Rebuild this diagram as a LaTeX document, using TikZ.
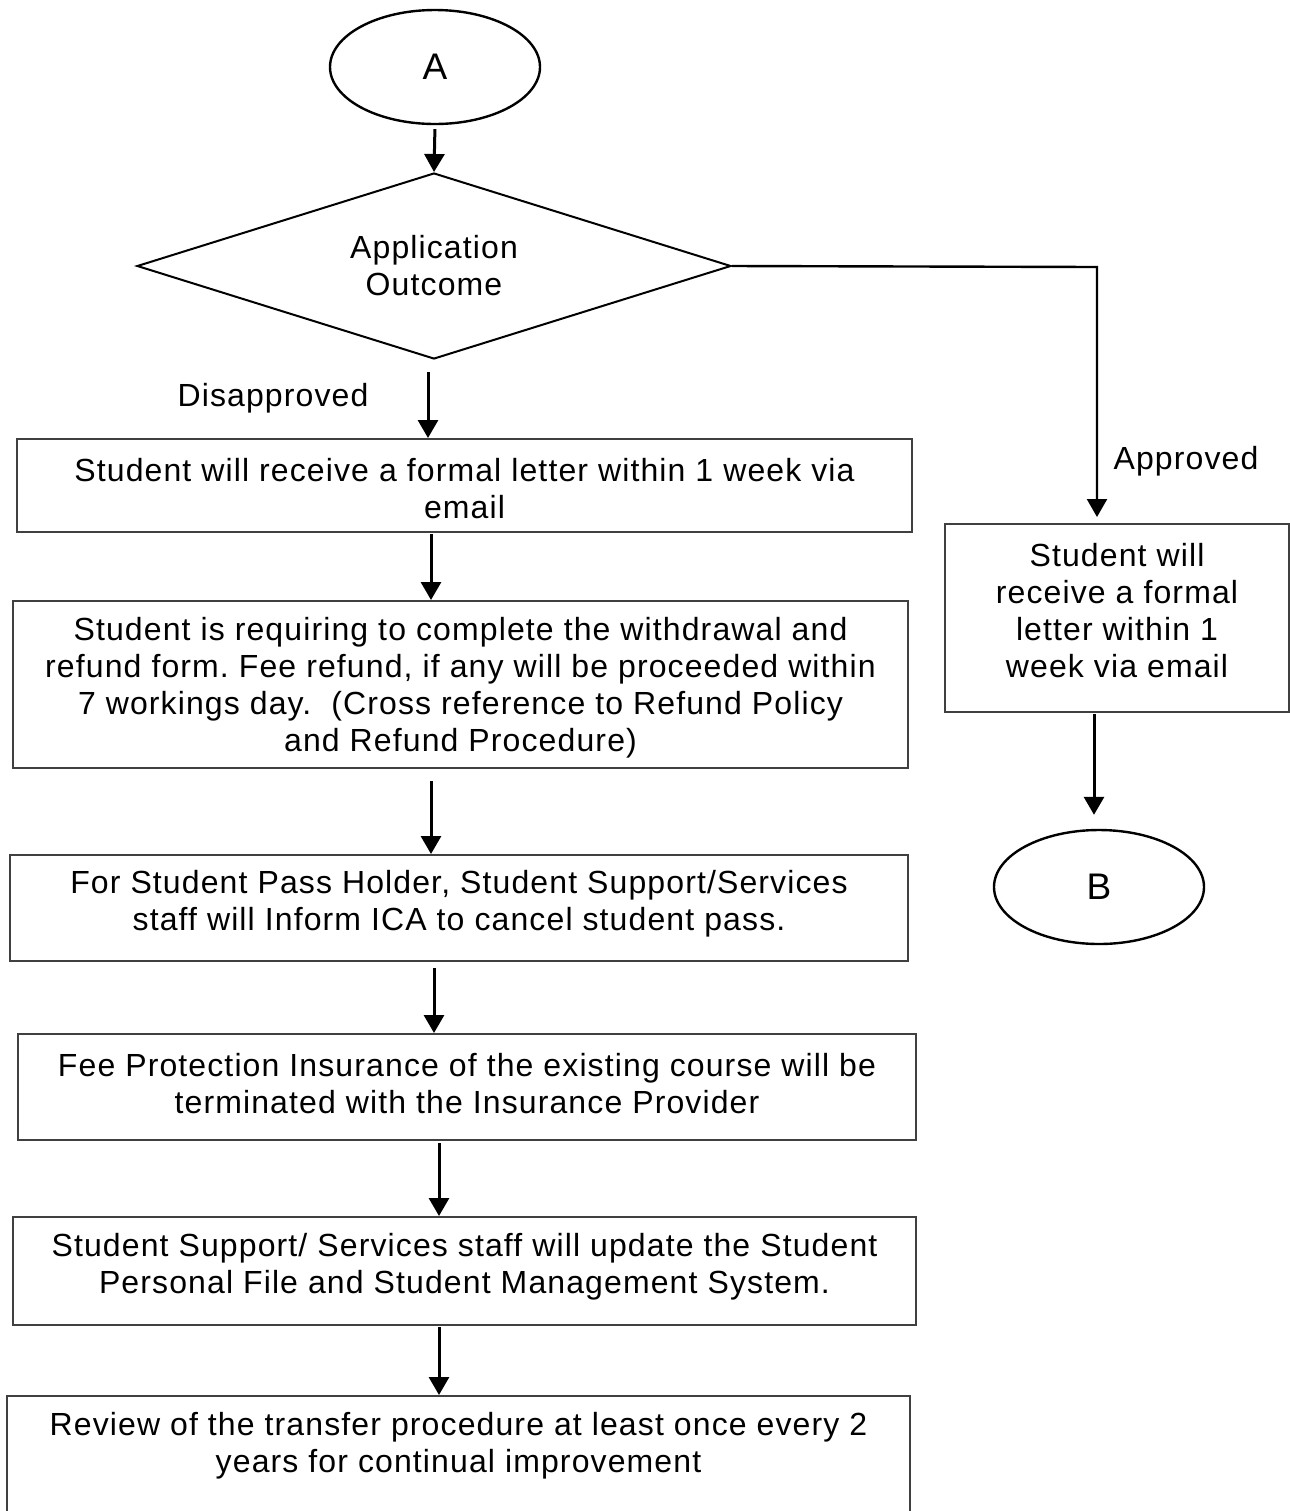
\documentclass[tikz,border=0pt]{standalone}
\usepackage{fontspec}
\setmainfont[LetterSpace=3.5]{Liberation Sans}
\usetikzlibrary{shapes.geometric,arrows.meta}
\begin{document}
\frenchspacing
\begin{tikzpicture}[x=0.5pt,y=-0.5pt,
  every node/.style={font=\fontsize{16pt}{18.5pt}\selectfont, align=center, inner sep=0pt},
  box/.style={draw=black!75, line width=1pt, rectangle},
  oval/.style={draw=black, line width=1.2pt, ellipse, minimum width=105pt, minimum height=57pt, font=\fontsize{18.5pt}{20pt}\selectfont},
  decision/.style={draw=black, line width=1pt, diamond, aspect=3.2, minimum width=297pt, minimum height=93pt},
  arr/.style={line width=1.5pt, -{Triangle[length=9pt,width=10pt]}}]
\useasboundingbox (0,0) rectangle (1290,1511);

\node[oval] (A) at (435,67) {A};
\node[decision] (D) at (434,266) {Application\\Outcome};
\node[box, minimum width=447.5pt, minimum height=46.5pt] (b1) at (464.5,485.5) {};
\node at (464.5,489) {Student will receive a formal letter within 1 week via\\email};
\node[box, minimum width=447.5pt, minimum height=83.5pt] (b2) at (460.5,684.5) {};
\node at (460.5,687.5) {Student is requiring to complete the withdrawal and\\refund form. Fee refund, if any will be proceeded within\\7 workings day.\ \ (Cross reference to Refund Policy\\and Refund Procedure)};
\node[box, minimum width=449pt, minimum height=53pt] (b3) at (459,908) {};
\node at (459,904) {For Student Pass Holder, Student Support/Services\\staff will Inform ICA to cancel student pass.};
\node[box, minimum width=449pt, minimum height=53pt] (b4) at (467,1087) {};
\node at (467,1084) {Fee Protection Insurance of the existing course will be\\terminated with the Insurance Provider};
\node[box, minimum width=451.5pt, minimum height=54pt] (b5) at (464.5,1271) {};
\node at (464.5,1267) {Student Support/ Services staff will update the Student\\Personal File and Student Management System.};
\node[box, minimum width=451.5pt, minimum height=80pt, anchor=north] (b6) at (458.5,1395) {};
\node at (458.5,1446) {Review of the transfer procedure at least once every 2\\years for continual improvement};

\node[box, minimum width=172pt, minimum height=94pt] (R) at (1117,618) {};
\node at (1117,611) {Student will\\receive a formal\\letter within 1\\week via email};
\node[oval] (Bn) at (1099,887) {B};

\node (dis) at (273,398) {Disapproved};
\node (app) at (1186,461) {Approved};

\coordinate (c2) at (428,372);
\coordinate (c3) at (431,534);
\coordinate (c4) at (431,781);
\coordinate (c5) at (434,968);
\coordinate (c6) at (439,1143);
\coordinate (c7) at (439,1327);
\coordinate (c8) at (1097,267);
\coordinate (c9) at (1094,714);

\draw[arr, shorten <=2pt] (A.south) -- (D.north);
\draw[arr] (c2) -- (c2 |- b1.north);
\draw[arr] (c3) -- (c3 |- b2.north);
\draw[arr] (c4) -- (c4 |- b3.north);
\draw[arr] (c5) -- (c5 |- b4.north);
\draw[arr] (c6) -- (c6 |- b5.north);
\draw[arr] (c7) -- (c7 |- b6.north);
\draw[arr, line width=1.2pt] (D.east) -- (c8) -- ([yshift=3pt]c8 |- R.north);
\draw[arr, shorten >=7pt] (c9) -- (c9 |- Bn.north);
\end{tikzpicture}
\end{document}
